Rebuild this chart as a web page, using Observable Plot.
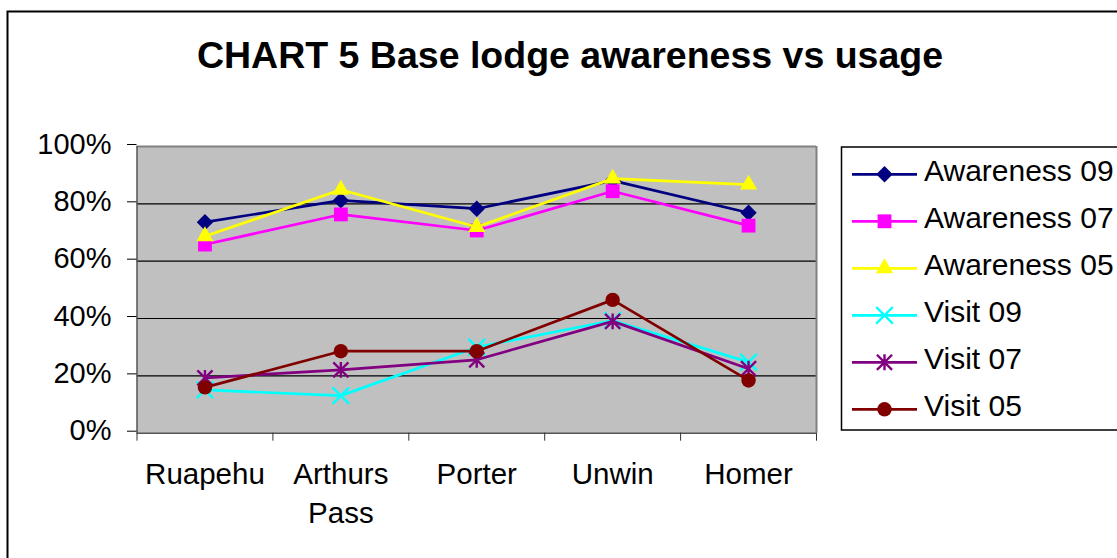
<!DOCTYPE html>
<html>
<head>
<meta charset="utf-8">
<script src="https://cdn.jsdelivr.net/npm/d3@7"></script>
<script src="https://cdn.jsdelivr.net/npm/@observablehq/plot@0.6"></script>
<style>
  html, body { margin: 0; padding: 0; background: #fff; overflow: hidden; }
  #wrap { position: relative; width: 1117px; height: 558px; overflow: hidden; }
  #wrap > svg { position: absolute; left: 0; top: 0; }
</style>
</head>
<body>
<div id="wrap"></div>
<script>
const titleText = "CHART 5 Base lodge awareness vs usage";
const categories = ["Ruapehu", "Arthurs Pass", "Porter", "Unwin", "Homer"];
const tickLabels = ["Ruapehu", "Arthurs\nPass", "Porter", "Unwin", "Homer"];
const yTicks = [0, 0.2, 0.4, 0.6, 0.8, 1];
const seriesNames = ["Awareness 09", "Awareness 07", "Awareness 05", "Visit 09", "Visit 07", "Visit 05"];
const awareness09 = [0.736, 0.812, 0.783, 0.881, 0.769];
const awareness07 = [0.658, 0.763, 0.707, 0.844, 0.724];
const awareness05 = [0.687, 0.849, 0.719, 0.888, 0.867];
const visit09 = [0.151, 0.131, 0.300, 0.393, 0.248];
const visit07 = [0.193, 0.221, 0.256, 0.390, 0.225];
const visit05 = [0.160, 0.286, 0.286, 0.465, 0.184];
const seriesColors = ["#000080", "#FF00FF", "#FFFF00", "#00FFFF", "#800080", "#800000"];

// Excel-like marker shapes
const excelStar = {
  draw(ctx, size) {
    const r = Math.sqrt(size) * 0.52;
    ctx.moveTo(-r, -r); ctx.lineTo(r, r);
    ctx.moveTo(-r, r); ctx.lineTo(r, -r);
    ctx.moveTo(0, -r * 1.05); ctx.lineTo(0, r * 1.05);
  }
};
const excelTimes = {
  draw(ctx, size) {
    const r = Math.sqrt(size) * 0.6;
    ctx.moveTo(-r, -r); ctx.lineTo(r, r);
    ctx.moveTo(-r, r); ctx.lineTo(r, -r);
  }
};
const markers = [
  {symbol: d3.symbolDiamond2, r: 7.4, filled: true},
  {symbol: d3.symbolSquare, r: 7.8, filled: true},
  {symbol: d3.symbolTriangle, r: 6.4, filled: true},
  {symbol: excelTimes, r: 7.8, filled: false},
  {symbol: excelStar, r: 8.2, filled: false},
  {symbol: d3.symbolCircle, r: 7.2, filled: true}
];

const seriesValues = [awareness09, awareness07, awareness05, visit09, visit07, visit05];
const rows = [];
seriesNames.forEach((s, si) => {
  categories.forEach((c, ci) => rows.push({series: s, si, ci, cat: c, value: seriesValues[si][ci]}));
});

const font = "Arial, 'Liberation Sans', sans-serif";
const marks = [
  Plot.frame({fill: "#C0C0C0", stroke: "none"}),
  Plot.ruleY([0.2, 0.4, 0.6, 0.8], {stroke: "#000", strokeWidth: 1.2}),
  Plot.ruleY([1], {stroke: "#808080", strokeWidth: 2}),
  Plot.ruleX([5], {stroke: "#808080", strokeWidth: 2}),
  Plot.ruleX([0], {stroke: "#555", strokeWidth: 1.5}),
  Plot.ruleY([0], {stroke: "#555", strokeWidth: 1.5}),
  Plot.axisY({ticks: yTicks, tickFormat: d => `${Math.round(d * 100)}%`, tickSize: 9.5, tickPadding: 16,
    fontSize: 29, stroke: "#000", fill: "#000", dy: -2, label: null}),
  Plot.axisX({ticks: [0, 1, 2, 3, 4, 5], tickFormat: () => "", tickSize: 8, stroke: "#333", label: null}),
  Plot.text(tickLabels, {x: (d, i) => i + 0.5, y: () => 0, text: d => d, lineAnchor: "top", dy: 23,
    fontSize: 29.5, lineHeight: 1.32, fill: "#000"})
];
seriesNames.forEach((s, si) => {
  const data = rows.filter(d => d.si === si);
  const col = seriesColors[si];
  marks.push(Plot.line(data, {x: d => d.ci + 0.5, y: "value", stroke: col, strokeWidth: 2.7}));
  const m = markers[si];
  marks.push(Plot.dot(data, {x: d => d.ci + 0.5, y: "value", symbol: m.symbol, r: m.r,
    fill: m.filled ? col : "none", stroke: m.filled ? "none" : col, strokeWidth: 2.4}));
});

const chart = Plot.plot({
  width: 1117, height: 558,
  marginLeft: 136.5, marginRight: 301, marginTop: 146, marginBottom: 125.3,
  x: {type: "linear", domain: [0, 5], axis: null},
  y: {domain: [0, 1], axis: null},
  style: {background: "transparent", fontFamily: font, color: "#000"},
  marks
});
const wrap = document.getElementById("wrap");
wrap.appendChild(chart);

// Overlay: outer border, title, legend
const ov = d3.select(wrap).append("svg")
  .attr("width", 1117).attr("height", 558)
  .style("font-family", font).style("pointer-events", "none");
ov.append("rect").attr("x", 7.5).attr("y", 11.5).attr("width", 1300).attr("height", 700)
  .attr("fill", "none").attr("stroke", "#000").attr("stroke-width", 2);
ov.append("text").attr("x", 570).attr("y", 68).attr("text-anchor", "middle")
  .attr("font-size", 37.5).attr("font-weight", "bold").attr("fill", "#000").text(titleText);

const lg = ov.append("g");
lg.append("rect").attr("x", 841.5).attr("y", 147).attr("width", 400).attr("height", 283)
  .attr("fill", "#fff").attr("stroke", "#000").attr("stroke-width", 1.5);
seriesNames.forEach((s, si) => {
  const y = 174.3 + 47 * si;
  const col = seriesColors[si];
  const m = markers[si];
  lg.append("line").attr("x1", 852).attr("x2", 917).attr("y1", y).attr("y2", y)
    .attr("stroke", col).attr("stroke-width", 2.7);
  lg.append("path").attr("transform", `translate(884.5,${y})`)
    .attr("d", d3.symbol(m.symbol, Math.PI * m.r * m.r)())
    .attr("fill", m.filled ? col : "none").attr("stroke", m.filled ? "none" : col).attr("stroke-width", 2.4);
  lg.append("text").attr("x", 924).attr("y", y + 6.5).attr("font-size", 30).attr("fill", "#000").text(s);
});
</script>
</body>
</html>
